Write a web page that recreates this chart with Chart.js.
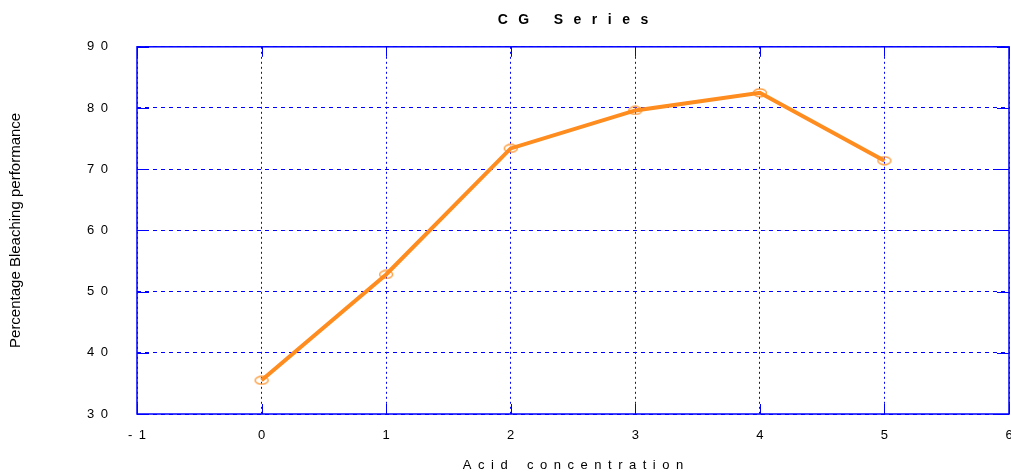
<!DOCTYPE html>
<html>
<head>
<meta charset="utf-8">
<script src="https://cdn.jsdelivr.net/npm/chart.js@4"></script>
<style>
  html, body { margin: 0; padding: 0; background: #fff; }
  #wrap { width: 1011px; height: 475px; }
</style>
</head>
<body>
<div id="wrap"><canvas id="grafico1"></canvas></div>
<script>
// acid concentration vs bleaching performance
var concentracion = [0, 1, 2, 3, 4, 5];
var blanqueo = [35.5, 52.8, 73.4, 79.6, 82.5, 71.4];
var xTicks = [-1, 0, 1, 2, 3, 4, 5, 6];
var yTicks = [30, 40, 50, 60, 70, 80, 90];

// old plotting program wrote labels with spaced out characters
function espaciar(v) {
  return String(v).split('').join('\u2002');
}

// hollow flat ellipse marker like the original
var marca = document.createElement('canvas');
marca.width = 16;
marca.height = 10;
(function () {
  var c = marca.getContext('2d');
  c.strokeStyle = '#ff8c1e';
  c.lineWidth = 1.2;
  c.beginPath();
  c.ellipse(8, 5, 6.5, 3.8, 0, 0, Math.PI * 2);
  c.stroke();
})();

var marco = {
  id: 'marco',
  afterDatasetsDraw: function (chart) {
    var a = chart.chartArea, ctx = chart.ctx;
    var sx = chart.scales.x, sy = chart.scales.y;
    ctx.save();
    ctx.strokeStyle = '#0000ff';
    ctx.lineWidth = 1.5;
    ctx.setLineDash([]);
    ctx.strokeRect(a.left, a.top, a.right - a.left, a.bottom - a.top);
    ctx.lineWidth = 1;
    ctx.beginPath();
    yTicks.forEach(function (v) {
      var y = Math.round(sy.getPixelForValue(v)) + 0.5;
      ctx.moveTo(a.left, y); ctx.lineTo(a.left + 12, y);
      ctx.moveTo(a.right, y); ctx.lineTo(a.right - 12, y);
    });
    xTicks.forEach(function (v) {
      var x = Math.round(sx.getPixelForValue(v)) + 0.5;
      ctx.moveTo(x, a.bottom); ctx.lineTo(x, a.bottom - 10);
      ctx.moveTo(x, a.top); ctx.lineTo(x, a.top + 10);
    });
    ctx.stroke();
    ctx.restore();
  }
};

var ctx = document.getElementById("grafico1");
var myChart = new Chart(ctx, {
  type: 'line',
  data: {
    datasets: [{
      label: 'CG Series',
      data: concentracion.map(function (c, i) { return {x: c, y: blanqueo[i]}; }),
      borderColor: '#ff8c1e',
      borderWidth: 4,
      pointStyle: marca,
      tension: 0
    }]
  },
  plugins: [marco],
  options: {
    responsive: true,
    maintainAspectRatio: false,
    animation: false,
    layout: { autoPadding: false, padding: { left: 0, right: 2, top: 0, bottom: 0 } },
    plugins: {
      legend: { display: false },
      tooltip: { enabled: false },
      title: {
        display: true,
        fullSize: false,
        text: 'C\u2002\u2005G\u2003\u2002\u2005S\u2002\u2005e\u2002\u2005r\u2002\u2005i\u2002\u2005e\u2002\u2005s',
        color: '#000',
        font: { family: 'Arial', size: 14, weight: 'bold' },
        padding: { top: 12, bottom: 18 }
      }
    },
    scales: {
      x: {
        type: 'linear',
        min: -1,
        max: 6,
        afterBuildTicks: function (s) { s.ticks = xTicks.map(function (v) { return {value: v}; }); },
        afterFit: function (s) { s.height = 61; s.paddingLeft = 0; s.paddingRight = 0; },
        ticks: {
          callback: espaciar,
          color: '#000',
          padding: 14,
          maxRotation: 0,
          font: { family: 'Arial', size: 13 }
        },
        grid: { color: '#0000ff', lineWidth: 1, drawTicks: false },
        border: { display: false, dash: [2, 3] },
        title: {
          display: true,
          text: 'A\u2002c\u2002i\u2002d\u2002\u2002\u2002c\u2002o\u2002n\u2002c\u2002e\u2002n\u2002t\u2002r\u2002a\u2002t\u2002i\u2002o\u2002n',
          color: '#000',
          font: { family: 'Arial', size: 13 },
          padding: { top: 0, bottom: 2 }
        }
      },
      y: {
        min: 30,
        max: 90,
        afterBuildTicks: function (s) { s.ticks = yTicks.map(function (v) { return {value: v}; }); },
        afterFit: function (s) { s.width = 137; },
        ticks: {
          callback: espaciar,
          color: '#000',
          padding: 29,
          font: { family: 'Arial', size: 13 }
        },
        grid: { color: '#0000ff', lineWidth: 1, drawTicks: false },
        border: { display: false, dash: [4, 4] },
        title: {
          display: true,
          text: 'Percentage Bleaching performance',
          color: '#000',
          font: { family: 'Arial', size: 15 },
          padding: { top: 7, bottom: 0 }
        }
      }
    }
  }
});
</script>
</body>
</html>
